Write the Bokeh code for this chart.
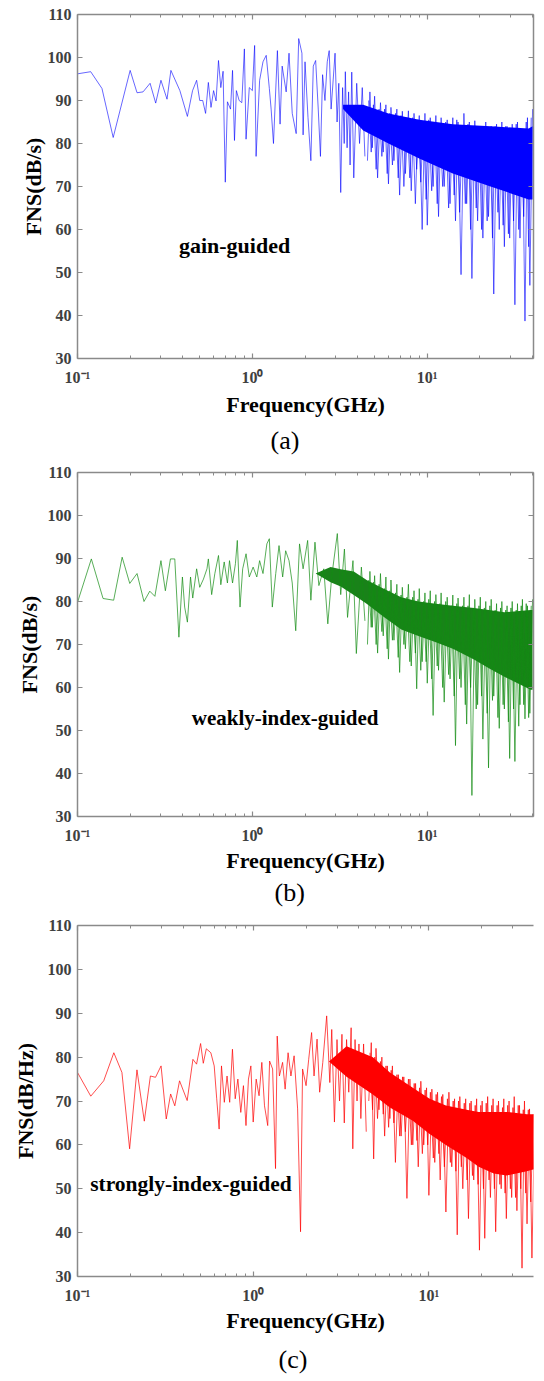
from bokeh.plotting import figure
from bokeh.models import (Range1d, FixedTicker, LinearAxis, LogAxis, Title, Label,
                          CustomJSTickFormatter)
from bokeh.layouts import column
from bokeh.embed import file_html
from bokeh.resources import INLINE

# ---------------- data ----------------
x_major = [0.1, 1, 10]
x_minor = [0.2, 0.3, 0.4, 0.5, 0.6, 0.7, 0.8, 0.9, 2, 3, 4, 5, 6, 7, 8, 9, 20, 30, 40]
x_tick_labels = ["10\u207b\u00b9", "10\u2070", "10\u00b9"]
y_ticks = [30, 40, 50, 60, 70, 80, 90, 100, 110]

# panel (a) gain-guided, sparse low-frequency part
freq_a = [0.100,0.119,0.138,0.160,0.200,0.219,0.237,0.260,0.280,0.300,0.325,0.342,
          0.385,0.425,0.455,0.480,0.500,0.520,0.540,0.560,0.580,0.600,
          0.620,0.640,0.660,0.680,0.700,0.720,0.750,0.770,0.790,0.810,0.840,
          0.870,0.900,0.920,0.960,1.000,1.030,1.050,1.100,1.150,1.200,
          1.250,1.280,1.320,1.390,1.440,1.480,1.560,1.620,1.690,1.780,
          1.840,1.920,1.950,2.000,2.080,2.160,2.230,2.300,2.380,2.450,
          2.520,2.600,2.680,2.750,2.820,2.900,2.970,3.050,3.120,3.200,
          3.280,3.350,3.400,3.480,3.550,3.620,3.700,3.800,3.950,4.100,
          4.250,4.400]
fns_a = [96.2,96.7,92.8,81.4,97.0,91.8,92.0,94.0,89.4,94.7,90.3,97.0,
         92.3,86.3,92.3,94.7,90.0,90.0,87.0,94.2,88.4,92.3,
         89.9,99.3,93.0,96.8,71.0,89.7,88.0,97.0,80.7,92.3,90.0,
         89.5,102.0,81.0,93.0,92.3,102.8,77.0,94.7,99.0,100.5,
         92.8,88.0,80.0,101.6,84.5,98.0,92.0,101.0,87.0,82.3,
         104.4,101.0,82.0,99.0,86.0,76.0,98.0,99.3,88.0,77.0,
         96.0,90.0,99.0,101.6,88.0,95.0,101.0,85.0,94.0,68.6,
         93.0,80.0,96.7,79.0,92.0,75.0,96.6,72.0,94.0,80.0,
         93.0,77.0]

# panel (b) weakly-index-guided
freq_b = [0.100,0.120,0.140,0.161,0.180,0.199,0.219,0.240,0.259,0.277,0.300,
          0.318,0.340,0.360,0.380,0.398,0.410,0.425,0.443,0.456,0.480,
          0.500,0.525,0.550,0.560,0.585,0.610,0.640,0.660,0.690,0.720,
          0.740,0.770,0.800,0.820,0.850,0.880,0.920,0.960,1.010,1.060,
          1.100,1.150,1.210,1.250,1.300,1.360,1.420,1.490,1.550,1.620,
          1.690,1.770,1.860,1.950,2.070,2.160,2.280,2.400,2.560,2.700,
          2.840,3.060,3.200,3.360,3.500,3.760,3.930,4.200,4.400]
fns_b = [79.8,89.9,80.7,80.3,90.3,84.2,86.5,80.0,82.4,81.2,89.5,
         82.5,89.9,89.9,71.7,85.7,78.7,75.2,85.7,80.8,87.6,
         83.3,85.2,87.6,89.9,81.6,86.5,90.7,83.9,89.2,84.3,
         89.5,84.3,88.8,94.2,78.7,87.6,91.1,85.7,88.0,85.7,
         89.5,86.5,93.4,94.6,78.7,86.5,93.0,85.7,91.8,89.5,
         84.3,73.2,93.4,87.6,94.2,80.3,93.8,83.7,87.6,74.8,
         85.7,95.8,81.6,92.2,76.3,89.5,67.9,88.0,75.5]

# panel (c) strongly-index-guided
freq_c = [0.100,0.119,0.141,0.161,0.179,0.198,0.218,0.240,0.260,0.278,0.299,
          0.320,0.339,0.358,0.381,0.421,0.454,0.476,0.502,0.520,0.541,
          0.574,0.600,0.620,0.640,0.660,0.685,0.710,0.735,0.762,0.790,
          0.818,0.850,0.880,0.910,0.940,0.970,1.000,1.040,1.080,1.120,
          1.160,1.210,1.240,1.290,1.340,1.370,1.410,1.470,1.520,1.580,
          1.640,1.710,1.790,1.860,1.910,2.000,2.070,2.150,2.220,2.310,
          2.390,2.490,2.620,2.730,2.800,2.900,3.000,3.100,3.200,3.300,
          3.400,3.500,3.610,3.690,3.800,3.900,4.000,4.100,4.250,4.400]
fns_c = [76.5,71.1,74.6,81.0,76.5,59.1,77.1,65.4,75.7,75.4,78.0,
         65.9,71.6,68.9,74.6,70.1,79.5,78.4,83.1,78.6,81.9,
         81.0,78.0,70.5,63.6,78.0,69.7,75.7,69.7,81.8,70.5,
         75.0,67.4,73.5,64.4,75.0,78.0,65.2,75.0,71.2,78.8,
         68.9,64.4,79.1,77.3,54.6,84.8,75.7,78.8,72.7,81.0,
         75.7,80.3,68.2,40.2,77.3,73.5,79.5,85.6,75.7,84.1,
         72.0,78.8,89.4,74.2,86.3,65.2,84.0,70.0,85.2,65.0,
         84.0,72.0,86.7,59.1,84.0,70.0,83.0,66.0,83.0,63.0]

# high-frequency (dense) part, sampled frequencies (GHz)
freq_hi = [4.55,4.7,4.85,5.0,5.2,5.4,5.6,5.8,6.0,6.2,
           6.45,6.7,6.95,7.2,7.5,7.8,8.1,8.4,8.7,9.0,
           9.35,9.7,10.0,10.4,10.8,11.2,11.6,12.0,12.5,13.0,
           13.5,14.0,14.5,15.0,15.6,16.2,16.8,17.4,18.0,18.7,
           19.4,20.1,20.8,21.6,22.4,23.2,24.0,24.9,25.8,26.7,
           27.6,28.6,29.6,30.6,31.7,32.8,33.9,35.0,36.2,37.4,
           38.6,40.0]
fns_a_hi = [76,92,79,91,72,89.5,78,89,70.6,88.4,
            76,88,68,87.5,73,87.6,69,87,74,86.5,
            60,87,61,86,70,86.5,63,86,70,85.5,
            66,86,62,85,49.5,87,66,85,48.6,85.3,
            62,84,58,85,63,84,45,84.5,60,85,
            56,84,58,84.5,42.5,85,58,83,38.7,86,
            47,88]
fns_b_hi = [70,87,74,86,68,86.5,72,85.7,66.6,85,
            71,84,63.5,83.3,69,84,65,82.5,59.7,83,
            66,82,61,82.5,53.5,81.6,64,82,56.6,81,
            62,81.5,46.5,80.8,60,81,51.5,81.6,34.9,80.5,
            56,81,48,80,41.3,80.5,58,79.5,50.5,80,
            55,79,43.5,80,42.8,79.5,56,80.5,52.7,79,
            54,80.5]
fns_c_hi = [70,83.3,56.8,82,68,80,62,78,66,78,
            56,76,62,75.5,47.8,75,60,74,55,74.5,
            60,73,48.5,72.7,56,72,52,71.5,44.7,72,
            55,70.5,39.5,71,50,70.5,43.2,70,52,70.5,
            36,70,38.7,71,48,70.5,40.2,70,50,70.5,
            43.2,70,48,71,45,69,31.9,70,42,68.2,
            34.2,66]

# second set of samples in the dense part (between the ones above)
freq_hi2 = [4.62,4.78,4.92,5.1,5.3,5.5,5.7,5.9,6.1,6.32,
            6.58,6.82,7.08,7.35,7.65,7.95,8.25,8.55,8.85,9.18,
            9.52,9.85,10.2,10.6,11.0,11.4,11.8,12.25,12.75,13.25,
            13.75,14.25,14.75,15.3,15.9,16.5,17.1,17.7,18.35,19.05,
            19.75,20.45,21.2,22.0,22.8,23.6,24.45,25.35,26.25,27.15,
            28.1,29.1,30.1,31.15,32.25,33.35,34.45,35.6,36.8,38.0,
            39.3]
fns_a_hi2 = [90,78,89,74,88,77,88,73,87,75,
             87,72,86.5,70,86,72,86,66,85.5,71,
             85,67,85.5,69,85,66,84.5,70,85,65,
             84,68,85.5,64,84,66,84.5,60,84,65,
             83.5,60,84,62,83.5,58,84,64,83.5,61,
             84,59,83.5,62,84.5,60,83,63,85,56,
             86]
fns_b_hi2 = [85,74,84.5,70,84,73,83,69,82.5,71,
             82,67,81.5,70,81,66,81,68,80.5,64,
             80,66,80.5,62,80,65,79.5,60,80,63,
             79,58,79.5,62,79,56,79,60,78.5,55,
             79,58,78.5,54,79,57,78,53,78.5,56,
             78,52,78.5,55,78,51,79,56,79.5,53,
             79]
fns_c_hi2 = [81,68,80,66,79,67,78,64,77,65,
             76,62,75.5,63,75,60,74,61,73,58,
             72.5,60,72,57,71.5,58,71,55,70.5,56,
             70,54,70,55,69.5,52,69.5,53,69,51,
             69,50,69.5,52,69,50,69,51,68.5,49,
             69,50,68.5,48,69,50,68,49,68,47,
             67]

# dense solid core of the noise band (lower / upper edge)
band_f_a = [3.3, 4.3, 6.0, 9.0, 14.0, 23.0, 38.0, 40.0]
band_lo_a = [88, 83, 80, 76.5, 73, 70, 67, 67]
band_hi_a = [89, 89, 87, 85.5, 84.5, 84, 83.5, 84]

band_f_b = [2.3, 2.8, 3.2, 3.8, 4.5, 5.6, 7.1, 8.9, 11.2, 14.0, 18.5, 22.5, 27.6, 39.0, 40.0]
band_lo_b = [86.5, 84.5, 83.5, 81.5, 79.5, 76.5, 73.5, 72, 70.5, 69, 66.5, 64.5, 62.5, 59.5, 59.5]
band_hi_b = [86.5, 88, 87.5, 87, 85, 83, 81, 80, 79.5, 79, 78.5, 78, 77.5, 78, 78]

band_f_c = [2.7, 3.4, 4.8, 6.0, 8.1, 10.1, 12.5, 16.4, 19.2, 23.4, 27.7, 36.1, 40.0]
band_lo_c = [79, 75.5, 71.5, 68.5, 65.5, 62.5, 60, 57, 55, 53.5, 53, 54, 54.5]
band_hi_c = [79, 82.5, 80, 76.5, 73, 70.5, 69, 68, 67.5, 67.5, 67.5, 67, 67]

# ---------------- styling ----------------
SERIF = "Liberation Serif"
FRAME = "#8a8a8a"
TICKC = "#404040"


def style_axis(ax, show_labels=True):
    ax.axis_line_color = FRAME
    ax.axis_line_width = 1.5
    ax.major_tick_in = 5
    ax.major_tick_out = 0
    ax.minor_tick_in = 3
    ax.minor_tick_out = 0
    ax.major_tick_line_color = FRAME
    ax.minor_tick_line_color = FRAME
    ax.major_tick_line_width = 1.2
    ax.minor_tick_line_width = 1.0
    ax.major_label_text_font = SERIF
    ax.major_label_text_font_style = "bold"
    ax.major_label_text_color = TICKC
    ax.major_label_text_font_size = "16px" if show_labels else "0px"
    ax.axis_label_text_font = SERIF
    ax.axis_label_text_font_style = "bold"
    ax.axis_label_text_font_size = "22px"
    ax.axis_label_text_color = "black"
    if not show_labels:
        ax.major_label_standoff = 0
        ax.formatter = CustomJSTickFormatter(code="return '';")


def panel(freq, fns, fns_hi, fns_hi2, bf, blo, bhi, line_color, line_alpha, core_color,
          core_alpha, ylabel, note, note_x, note_y, note_size, caption, cap_offset,
          cap_standoff, x_end, height, ml, mr, mt, mb, y_standoff, x_standoff,
          right_axis=True):
    p = figure(width=544, height=height, x_axis_type="log",
               x_range=Range1d(0.1, x_end), y_range=Range1d(30, 110),
               output_backend="svg", toolbar_location=None,
               min_border_left=ml, min_border_right=mr,
               min_border_top=mt, min_border_bottom=mb)
    p.outline_line_color = None
    p.grid.visible = False
    p.background_fill_color = "white"
    p.border_fill_color = "white"

    xt = FixedTicker(ticks=x_major, minor_ticks=x_minor)
    yt = FixedTicker(ticks=y_ticks, minor_ticks=[])

    xa = p.xaxis[0]
    ya = p.yaxis[0]
    xa.ticker = xt
    ya.ticker = yt
    style_axis(xa)
    style_axis(ya)
    xa.formatter = CustomJSTickFormatter(
        args=dict(major_vals=x_major, major_txt=x_tick_labels),
        code="""
        for (let i = 0; i < major_vals.length; i++) {
            if (Math.abs(Math.log10(major_vals[i]) - Math.log10(tick)) < 1e-6) return major_txt[i];
        }
        return '';
        """)
    xa.major_label_standoff = 10
    ya.major_label_standoff = 6
    xa.axis_label = "Frequency(GHz)"
    ya.axis_label = ylabel
    xa.axis_label_standoff = x_standoff
    ya.axis_label_standoff = y_standoff

    top = LogAxis(ticker=xt)
    style_axis(top, show_labels=False)
    p.add_layout(top, "above")
    if right_axis:
        right = LinearAxis(ticker=yt)
        style_axis(right, show_labels=False)
        p.add_layout(right, "right")

    p.varea(x=bf, y1=blo, y2=bhi, fill_color=core_color, fill_alpha=core_alpha)
    p.line(freq, fns, line_color=line_color, line_alpha=line_alpha, line_width=1)
    p.line(freq_hi2, fns_hi2, line_color=line_color, line_alpha=line_alpha, line_width=1)
    p.line(freq_hi, fns_hi, line_color=line_color, line_alpha=line_alpha, line_width=1)

    p.add_layout(Label(x=note_x, y=note_y, text=note, text_font=SERIF,
                       text_font_style="bold", text_font_size=note_size,
                       text_baseline="middle", text_align="left", text_color="black"))

    cap = Title(text=caption, align="left", offset=cap_offset, standoff=cap_standoff,
                text_font=SERIF, text_font_style="normal", text_font_size="26px",
                text_color="black")
    p.add_layout(cap, "below")
    return p


pa = panel(freq_a, fns_a, fns_a_hi, fns_a_hi2, band_f_a, band_lo_a, band_hi_a,
           "#0000ff", 0.6, "#0000ff", 1.0, "FNS(dB/s)", "gain-guided", 0.38, 56.3, "22px",
           "(a)", 193, 8, 40.5, 460, 77, 8, 14, 102, -1, 3)
pb = panel(freq_b, fns_b, fns_b_hi, fns_b_hi2, band_f_b, band_lo_b, band_hi_b,
           "#128c12", 0.7, "#007400", 0.9, "FNS(dB/s)", "weakly-index-guided", 0.45, 53, "21px",
           "(b)", 197, 0, 40.5, 454, 73, 11, 12, 98, 3, 1)
pc = panel(freq_c, fns_c, fns_c_hi, fns_c_hi2, band_f_c, band_lo_c, band_hi_c,
           "#ff0000", 0.7, "#ff0000", 1.0, "FNS(dB/Hz)", "strongly-index-guided", 0.118, 51, "21.5px",
           "(c)", 201, 14, 39.4, 467, 69, 0, 11, 105, 7, 1, right_axis=False)

layout = column(pa, pb, pc, spacing=0)
open("out.html", "w").write(file_html(layout, INLINE))
